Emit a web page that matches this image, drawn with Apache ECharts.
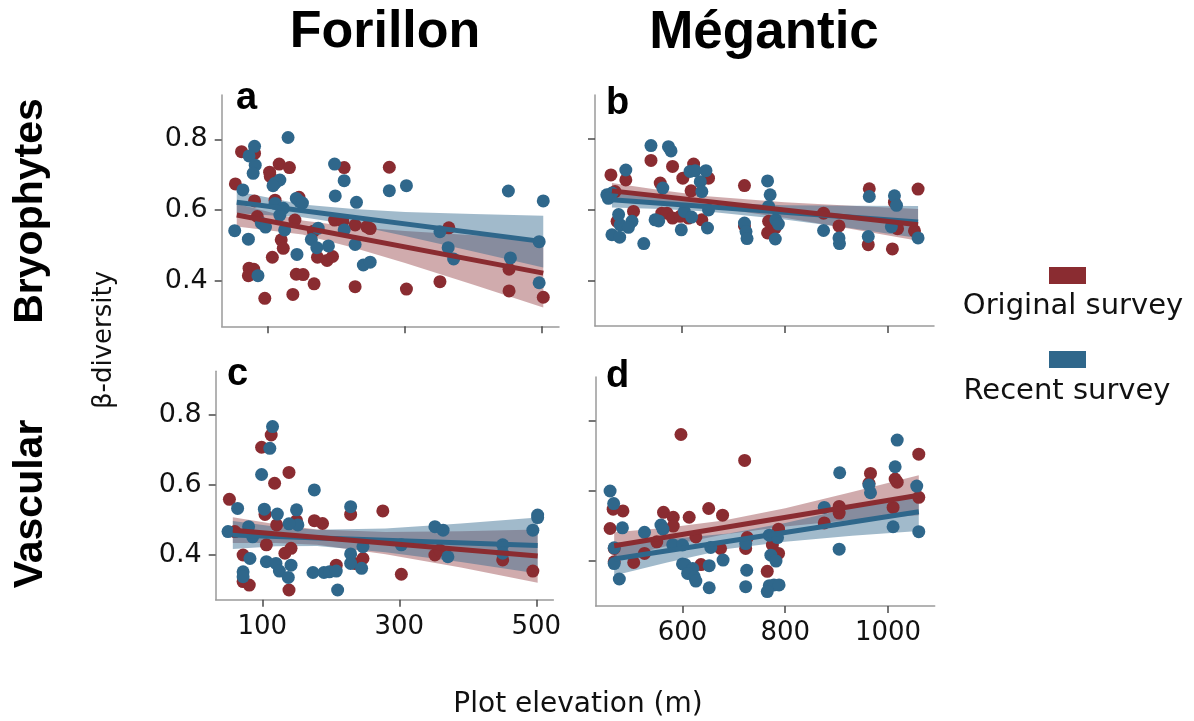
<!DOCTYPE html>
<html>
<head>
<meta charset="utf-8">
<script src="https://cdn.jsdelivr.net/npm/echarts@6/dist/echarts.min.js"></script>
<style>
  html, body { margin: 0; padding: 0; background: #fff; }
  #chart { width: 1194px; height: 721px; }
</style>
</head>
<body>
<div id="chart"></div>
<script>
// Site columns and taxon rows
const sites = ['Forillon', 'Mégantic'];
const taxa = ['Bryophytes', 'Vascular'];
const surveys = ['Original survey', 'Recent survey'];

// Tick labels
const forillonTicks = [100, 300, 500];
const meganticTicks = [600, 800, 1000];
const betaTicks = [0.4, 0.6, 0.8];

// Plot elevation (m), beta-diversity pairs
const forBryoOriginal = [[61,0.765],[80,0.76],[116,0.73],[131,0.72],[102,0.707],[103,0.695],[52,0.674],[110,0.628],[145,0.636],[80,0.626],[84,0.582],[139,0.572],[119,0.516],[122,0.492],[106,0.467],[72,0.436],[79,0.433],[71,0.415],[141,0.419],[151,0.418],[167,0.392],[95,0.351],[136,0.362],[227,0.384],[172,0.467],[186,0.458],[194,0.469],[166,0.54],[197,0.572],[209,0.568],[227,0.558],[244,0.553],[249,0.548],[211,0.72],[277,0.721],[364,0.55],[302,0.377],[351,0.398],[452,0.433],[452,0.372],[502,0.354]];
const forBryoRecent = [[129,0.805],[80,0.78],[72,0.753],[81,0.727],[78,0.704],[117,0.685],[110,0.676],[107,0.669],[63,0.657],[197,0.73],[211,0.683],[198,0.64],[141,0.633],[146,0.624],[150,0.62],[110,0.619],[122,0.605],[51,0.542],[71,0.518],[90,0.563],[96,0.552],[117,0.586],[124,0.544],[142,0.475],[85,0.415],[163,0.517],[171,0.494],[188,0.499],[173,0.549],[211,0.544],[229,0.622],[227,0.503],[239,0.445],[249,0.453],[277,0.655],[302,0.669],[451,0.654],[502,0.626],[351,0.539],[363,0.494],[371,0.462],[454,0.465],[496,0.395],[496,0.511]];

const megBryoOriginal = [[540,0.74],[582,0.723],[623,0.73],[462,0.699],[491,0.685],[602,0.69],[652,0.69],[558,0.676],[618,0.654],[722,0.669],[470,0.652],[506,0.596],[474,0.568],[561,0.591],[571,0.591],[582,0.577],[597,0.582],[613,0.577],[639,0.572],[722,0.555],[769,0.568],[767,0.535],[782,0.549],[876,0.591],[906,0.555],[965,0.66],[963,0.502],[1014,0.622],[1020,0.547],[1010,0.49],[1060,0.659],[1053,0.541]];
const megBryoRecent = [[540,0.782],[574,0.779],[579,0.767],[491,0.713],[616,0.709],[626,0.711],[647,0.711],[636,0.68],[563,0.662],[639,0.652],[454,0.643],[464,0.648],[457,0.633],[652,0.6],[477,0.587],[480,0.558],[503,0.568],[496,0.551],[464,0.53],[479,0.523],[526,0.505],[548,0.572],[555,0.569],[605,0.596],[619,0.58],[599,0.544],[650,0.549],[722,0.563],[725,0.539],[727,0.519],[767,0.682],[772,0.643],[769,0.61],[783,0.572],[788,0.56],[782,0.518],[876,0.542],[906,0.521],[907,0.505],[965,0.638],[963,0.525],[1014,0.64],[1018,0.613],[1008,0.553],[1060,0.521]];

const forVascOriginal = [[113,0.743],[99,0.708],[139,0.636],[118,0.605],[52,0.559],[104,0.516],[229,0.516],[276,0.526],[176,0.498],[188,0.49],[150,0.498],[121,0.486],[60,0.467],[106,0.429],[72,0.4],[142,0.419],[133,0.405],[139,0.3],[72,0.324],[81,0.314],[208,0.371],[235,0.376],[247,0.39],[303,0.345],[352,0.4],[359,0.414],[451,0.386],[495,0.354]];
const forVascRecent = [[115,0.767],[111,0.705],[99,0.63],[176,0.586],[64,0.533],[103,0.531],[122,0.517],[150,0.529],[229,0.538],[152,0.486],[139,0.489],[50,0.467],[80,0.481],[86,0.452],[82,0.39],[106,0.381],[120,0.376],[125,0.354],[142,0.371],[138,0.336],[72,0.352],[72,0.338],[174,0.35],[190,0.35],[198,0.352],[208,0.354],[229,0.403],[229,0.376],[245,0.362],[210,0.3],[247,0.424],[303,0.429],[352,0.481],[364,0.471],[371,0.395],[451,0.429],[451,0.405],[502,0.514],[502,0.507],[495,0.471]];

const megVascOriginal = [[597,0.761],[721,0.687],[465,0.548],[484,0.543],[563,0.539],[582,0.525],[613,0.525],[651,0.55],[678,0.531],[582,0.5],[459,0.493],[626,0.469],[550,0.455],[674,0.436],[526,0.422],[467,0.436],[467,0.398],[505,0.396],[636,0.39],[726,0.467],[723,0.436],[1060,0.705],[966,0.65],[1014,0.634],[1018,0.625],[963,0.622],[1060,0.582],[1010,0.553],[905,0.556],[905,0.537],[876,0.509],[787,0.491],[775,0.446],[787,0.422],[765,0.371]];
const megVascRecent = [[459,0.6],[466,0.564],[558,0.503],[562,0.491],[483,0.495],[526,0.482],[581,0.447],[600,0.446],[655,0.439],[467,0.438],[467,0.393],[477,0.349],[600,0.392],[605,0.39],[620,0.379],[610,0.365],[623,0.355],[626,0.343],[652,0.387],[679,0.403],[652,0.324],[725,0.374],[723,0.327],[723,0.45],[1018,0.745],[1014,0.669],[906,0.652],[963,0.617],[966,0.595],[1056,0.614],[1010,0.498],[1060,0.484],[876,0.553],[905,0.434],[769,0.474],[785,0.467],[772,0.417],[782,0.4],[769,0.33],[778,0.332],[788,0.332],[765,0.313]];

// Fitted linear trends: [start, end]
const forBryoOriginalFit = [[54,0.586],[502,0.422]];
const forBryoRecentFit = [[54,0.622],[502,0.511]];
const megBryoOriginalFit = [[464,0.654],[1060,0.558]];
const megBryoRecentFit = [[464,0.629],[1060,0.566]];
const forVascOriginalFit = [[57,0.471],[502,0.397]];
const forVascRecentFit = [[57,0.457],[502,0.427]];
const megVascOriginalFit = [[467,0.444],[1060,0.588]];
const megVascRecentFit = [[467,0.406],[1060,0.541]];

// 95% confidence bands: [elevation, lower, upper]
const forBryoOriginalCI = [[54,0.554,0.618],[150,0.531,0.571],[225,0.494,0.552],[300,0.451,0.541],[400,0.389,0.529],[502,0.325,0.519]];
const forBryoRecentCI = [[54,0.591,0.653],[150,0.580,0.616],[225,0.558,0.603],[300,0.527,0.595],[400,0.483,0.589],[502,0.438,0.584]];
const megBryoOriginalCI = [[464,0.632,0.676],[560,0.622,0.656],[650,0.609,0.639],[800,0.578,0.622],[930,0.546,0.612],[1060,0.513,0.603]];
const megBryoRecentCI = [[464,0.607,0.651],[560,0.603,0.635],[650,0.596,0.622],[800,0.573,0.613],[930,0.548,0.612],[1060,0.521,0.611]];
const forVascOriginalCI = [[57,0.434,0.508],[120,0.434,0.488],[180,0.429,0.473],[280,0.402,0.466],[390,0.364,0.468],[502,0.321,0.473]];
const forVascRecentCI = [[57,0.417,0.497],[120,0.425,0.481],[180,0.426,0.472],[280,0.408,0.476],[390,0.380,0.490],[502,0.347,0.507]];
const megVascOriginalCI = [[467,0.406,0.482],[570,0.443,0.495],[680,0.476,0.516],[800,0.499,0.551],[930,0.517,0.597],[1060,0.531,0.645]];
const megVascRecentCI = [[467,0.359,0.453],[570,0.396,0.462],[690,0.435,0.479],[800,0.455,0.509],[930,0.472,0.552],[1060,0.486,0.596]];

const RED = '#8a2c31';
const BLUE = '#2f678b';
const RED_BAND = 'rgba(138,44,49,0.40)';
const BLUE_BAND = 'rgba(47,103,139,0.45)';

const panels = [
  { letter: 'a', grid: { left: 221.7, top: 95, width: 337.3, height: 231.3 }, xr: [32, 525], ticks: forillonTicks, showX: false, showY: true,
    orig: forBryoOriginal, rec: forBryoRecent, origFit: forBryoOriginalFit, recFit: forBryoRecentFit, origCI: forBryoOriginalCI, recCI: forBryoRecentCI, lx: 236, ly: 99 },
  { letter: 'b', grid: { left: 595, top: 95, width: 339, height: 231 }, xr: [431, 1091], ticks: meganticTicks, showX: false, showY: false,
    orig: megBryoOriginal, rec: megBryoRecent, origFit: megBryoOriginalFit, recFit: megBryoRecentFit, origCI: megBryoOriginalCI, recCI: megBryoRecentCI, lx: 606, ly: 104 },
  { letter: 'c', grid: { left: 215.7, top: 371.3, width: 337.7, height: 228.5 }, xr: [32, 525], ticks: forillonTicks, showX: true, showY: true,
    orig: forVascOriginal, rec: forVascRecent, origFit: forVascOriginalFit, recFit: forVascRecentFit, origCI: forVascOriginalCI, recCI: forVascRecentCI, lx: 227, ly: 375 },
  { letter: 'd', grid: { left: 595.7, top: 377, width: 339, height: 229 }, xr: [431, 1091], ticks: meganticTicks, showX: true, showY: false,
    orig: megVascOriginal, rec: megVascRecent, origFit: megVascOriginalFit, recFit: megVascRecentFit, origCI: megVascOriginalCI, recCI: megVascRecentCI, lx: 606, ly: 377 }
];

const AXIS_GREY = '#9a9a9a';
const TICK_GREY = '#4a4a4a';
const SANS = '"DejaVu Sans", Verdana, sans-serif';
const BOLD = '"Liberation Sans", Arial, Helvetica, sans-serif';

function bandSeries(rows, fill, idx) {
  return {
    type: 'custom',
    xAxisIndex: idx, yAxisIndex: idx,
    z: 1, silent: true,
    data: rows,
    encode: { x: 0, y: [1, 2] },
    renderItem: function (params, api) {
      if (params.dataIndex !== 0) return null;
      const upper = rows.map(r => api.coord([r[0], r[2]]));
      const lower = rows.slice().reverse().map(r => api.coord([r[0], r[1]]));
      return { type: 'polygon', shape: { points: upper.concat(lower) }, style: { fill: fill, stroke: null } };
    }
  };
}

const grids = [], xAxes = [], yAxes = [], series = [];
panels.forEach((p, i) => {
  grids.push(Object.assign({ containLabel: false }, p.grid));
  xAxes.push({
    type: 'value', gridIndex: i, min: p.xr[0], max: p.xr[1],
    splitLine: { show: false },
    axisLine: { show: true, onZero: false, lineStyle: { color: AXIS_GREY, width: 1.5 } },
    axisTick: { show: true, length: 7, lineStyle: { color: TICK_GREY, width: 1.5 }, customValues: p.ticks },
    axisLabel: { show: p.showX, customValues: p.ticks, fontFamily: SANS, fontSize: 26, color: '#111', margin: 14,
                 formatter: v => String(v) }
  });
  yAxes.push({
    type: 'value', gridIndex: i, min: 0.272, max: 0.925,
    splitLine: { show: false },
    axisLine: { show: true, onZero: false, lineStyle: { color: AXIS_GREY, width: 1.5 } },
    axisTick: { show: true, length: 7, lineStyle: { color: TICK_GREY, width: 1.5 }, customValues: betaTicks },
    axisLabel: { show: p.showY, customValues: betaTicks, fontFamily: SANS, fontSize: 27, color: '#111', margin: 14,
                 formatter: v => v.toFixed(1) }
  });
  series.push(bandSeries(p.origCI, RED_BAND, i));
  series.push(bandSeries(p.recCI, BLUE_BAND, i));
  series.push({ name: surveys[0], type: 'scatter', xAxisIndex: i, yAxisIndex: i, z: 2, data: p.orig,
                symbolSize: 13, itemStyle: { color: RED, opacity: 1 } });
  series.push({ name: surveys[1], type: 'scatter', xAxisIndex: i, yAxisIndex: i, z: 2, data: p.rec,
                symbolSize: 13, itemStyle: { color: BLUE, opacity: 1 } });
  series.push({ type: 'line', xAxisIndex: i, yAxisIndex: i, z: 3, data: p.recFit, symbol: 'none',
                lineStyle: { color: BLUE, width: 5 } });
  series.push({ type: 'line', xAxisIndex: i, yAxisIndex: i, z: 4, data: p.origFit, symbol: 'none',
                lineStyle: { color: RED, width: 5 } });
});

const graphics = [
  { type: 'text', x: 385, y: 33, style: { text: sites[0], font: 'bold 52px ' + BOLD, fill: '#000', textAlign: 'center', textVerticalAlign: 'middle' } },
  { type: 'text', x: 764, y: 33, style: { text: sites[1], font: 'bold 53px ' + BOLD, fill: '#000', textAlign: 'center', textVerticalAlign: 'middle' } },
  { type: 'text', x: 31, y: 211, rotation: Math.PI / 2, style: { text: taxa[0], font: 'bold 41px ' + BOLD, fill: '#000', textAlign: 'center', textVerticalAlign: 'middle' } },
  { type: 'text', x: 31, y: 504, rotation: Math.PI / 2, style: { text: taxa[1], font: 'bold 41px ' + BOLD, fill: '#000', textAlign: 'center', textVerticalAlign: 'middle' } },
  { type: 'text', x: 104, y: 340, rotation: Math.PI / 2, style: { text: 'β-diversity', font: '26px ' + SANS, fill: '#111', textAlign: 'center', textVerticalAlign: 'middle' } },
  { type: 'text', x: 578, y: 705, style: { text: 'Plot elevation (m)', font: '28px ' + SANS, fill: '#111', textAlign: 'center', textVerticalAlign: 'middle' } },
  { type: 'rect', shape: { x: 1049, y: 267, width: 37, height: 17 }, style: { fill: RED } },
  { type: 'text', x: 1073, y: 306, style: { text: surveys[0], font: '29px ' + SANS, fill: '#111', textAlign: 'center', textVerticalAlign: 'middle' } },
  { type: 'rect', shape: { x: 1049, y: 351, width: 37, height: 17 }, style: { fill: BLUE } },
  { type: 'text', x: 1067, y: 391, style: { text: surveys[1], font: '29px ' + SANS, fill: '#111', textAlign: 'center', textVerticalAlign: 'middle' } }
];
panels.forEach(p => {
  graphics.push({ type: 'text', x: p.lx, y: p.ly, style: { text: p.letter, font: 'bold 38px ' + BOLD, fill: '#000', textAlign: 'left', textVerticalAlign: 'middle' } });
});

const chart = echarts.init(document.getElementById('chart'), null, { renderer: 'canvas' });
chart.setOption({
  animation: false,
  backgroundColor: '#ffffff',
  grid: grids,
  xAxis: xAxes,
  yAxis: yAxes,
  series: series,
  graphic: graphics
});
</script>
</body>
</html>
